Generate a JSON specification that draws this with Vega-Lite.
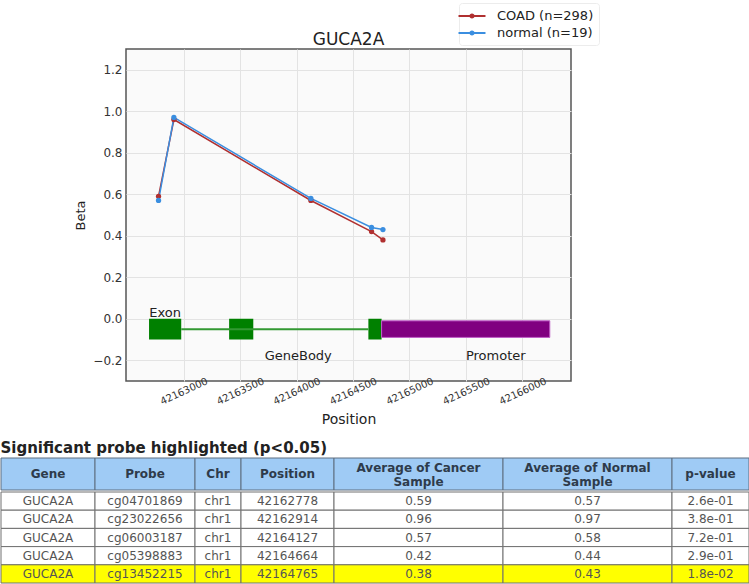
{
  "$schema": "https://vega.github.io/schema/vega-lite/v6.json",
  "padding": {"left": 0, "top": 2, "right": 0, "bottom": 0},
  "background": "#ffffff",
  "config": {
    "view": {"stroke": null},
    "font": "DejaVu Sans"
  },
  "datasets": {
    "probes": [
      {"pos": 42162778, "beta": 0.59, "group": "COAD (n=298)"},
      {"pos": 42162914, "beta": 0.96, "group": "COAD (n=298)"},
      {"pos": 42164127, "beta": 0.57, "group": "COAD (n=298)"},
      {"pos": 42164664, "beta": 0.42, "group": "COAD (n=298)"},
      {"pos": 42164765, "beta": 0.38, "group": "COAD (n=298)"},
      {"pos": 42162778, "beta": 0.57, "group": "normal (n=19)"},
      {"pos": 42162914, "beta": 0.97, "group": "normal (n=19)"},
      {"pos": 42164127, "beta": 0.58, "group": "normal (n=19)"},
      {"pos": 42164664, "beta": 0.44, "group": "normal (n=19)"},
      {"pos": 42164765, "beta": 0.43, "group": "normal (n=19)"}
    ],
    "genes": [
      {"start": 42162694, "end": 42162979, "top": 0, "bottom": -0.1, "part": "Exon"},
      {"start": 42163403, "end": 42163617, "top": 0, "bottom": -0.1, "part": "Exon"},
      {"start": 42164636, "end": 42164753, "top": 0, "bottom": -0.1, "part": "Exon"},
      {"start": 42164753, "end": 42166242, "top": -0.01, "bottom": -0.09, "part": "Promoter"}
    ],
    "intron": [
      {"start": 42162979, "end": 42164636, "y": -0.05}
    ],
    "labels": [
      {"label": "Exon", "x": 42162836, "y": 0.03},
      {"label": "GeneBody", "x": 42164015, "y": -0.18},
      {"label": "Promoter", "x": 42165764, "y": -0.18}
    ],
    "header": [
      {"col": "Gene", "label": "Gene"},
      {"col": "Probe", "label": "Probe"},
      {"col": "Chr", "label": "Chr"},
      {"col": "Position", "label": "Position"},
      {"col": "Cancer", "label": "Average of Cancer\nSample"},
      {"col": "Normal", "label": "Average of Normal\nSample"},
      {"col": "p", "label": "p-value"}
    ],
    "rows": [
      {"row": 1, "Gene": "GUCA2A", "Probe": "cg04701869", "Chr": "chr1", "Position": "42162778", "Cancer": "0.59", "Normal": "0.57", "p": "2.6e-01", "sig": "no"},
      {"row": 2, "Gene": "GUCA2A", "Probe": "cg23022656", "Chr": "chr1", "Position": "42162914", "Cancer": "0.96", "Normal": "0.97", "p": "3.8e-01", "sig": "no"},
      {"row": 3, "Gene": "GUCA2A", "Probe": "cg06003187", "Chr": "chr1", "Position": "42164127", "Cancer": "0.57", "Normal": "0.58", "p": "7.2e-01", "sig": "no"},
      {"row": 4, "Gene": "GUCA2A", "Probe": "cg05398883", "Chr": "chr1", "Position": "42164664", "Cancer": "0.42", "Normal": "0.44", "p": "2.9e-01", "sig": "no"},
      {"row": 5, "Gene": "GUCA2A", "Probe": "cg13452215", "Chr": "chr1", "Position": "42164765", "Cancer": "0.38", "Normal": "0.43", "p": "1.8e-02", "sig": "yes"}
    ]
  },
  "vconcat": [
    {
      "spacing": 0,
      "hconcat": [
        {
          "width": 73,
          "height": 5,
          "data": {"values": []},
          "mark": {"type": "rect", "opacity": 0},
          "encoding": {}
        },
        {
          "width": 445,
          "height": 332,
          "view": {"fill": "#fafafa", "stroke": "#555555", "strokeWidth": 1.5},
          "title": {"text": "GUCA2A", "fontSize": 17, "fontWeight": "normal", "font": "DejaVu Sans", "color": "#222222", "anchor": "middle", "offset": 0},
          "layer": [
            {
              "data": {"name": "genes"},
              "transform": [{"filter": "datum.part === 'Exon'"}],
              "mark": {"type": "rect", "fill": "#008000"},
              "encoding": {
                "x": {"field": "start", "type": "quantitative", "title": "Position",
                  "scale": {"domain": [42162490, 42166430], "nice": false, "zero": false},
                  "axis": {"values": [42163000, 42163500, 42164000, 42164500, 42165000, 42165500, 42166000], "format": "d",
                    "grid": true, "gridColor": "#e3e3e3", "domain": false, "ticks": false, "tickSize": 0,
                    "labelAngle": -25, "labelAlign": "center", "labelBaseline": "middle", "labelPadding": 10,
                    "labelFontSize": 10, "labelColor": "#333333", "labelFont": "DejaVu Sans",
                    "titleFontSize": 14, "titleFontWeight": "normal", "titleColor": "#222222", "titlePadding": 6, "titleFont": "DejaVu Sans"}},
                "x2": {"field": "end"},
                "y": {"field": "top", "type": "quantitative", "title": "Beta",
                  "scale": {"domain": [-0.3, 1.3], "nice": false, "zero": false},
                  "axis": {"values": [-0.2, 0, 0.2, 0.4, 0.6, 0.8, 1.0, 1.2], "format": ".1f",
                    "grid": true, "gridColor": "#e3e3e3", "domain": false, "ticks": false, "tickSize": 0,
                    "labelPadding": 4, "labelFontSize": 12, "labelColor": "#333333", "labelFont": "DejaVu Sans",
                    "titleFontSize": 13, "titleFontWeight": "normal", "titleColor": "#222222", "titlePadding": 5, "titleFont": "DejaVu Sans"}},
                "y2": {"field": "bottom"}
              }
            },
            {
              "data": {"name": "genes"},
              "transform": [{"filter": "datum.part === 'Promoter'"}],
              "mark": {"type": "rect", "fill": "#800080", "stroke": "#c060c8", "strokeWidth": 1},
              "encoding": {
                "x": {"field": "start", "type": "quantitative", "title": "Position"},
                "x2": {"field": "end"},
                "y": {"field": "top", "type": "quantitative", "title": "Beta"},
                "y2": {"field": "bottom"}
              }
            },
            {
              "data": {"name": "intron"},
              "mark": {"type": "rule", "stroke": "#339933", "strokeWidth": 2},
              "encoding": {
                "x": {"field": "start", "type": "quantitative", "title": "Position"},
                "x2": {"field": "end"},
                "y": {"field": "y", "type": "quantitative", "title": "Beta"}
              }
            },
            {
              "data": {"name": "labels"},
              "mark": {"type": "text", "fontSize": 13, "font": "DejaVu Sans", "color": "#222222", "baseline": "middle", "align": "center"},
              "encoding": {
                "x": {"field": "x", "type": "quantitative", "title": "Position"},
                "y": {"field": "y", "type": "quantitative", "title": "Beta"},
                "text": {"field": "label"}
              }
            },
            {
              "data": {"name": "probes"},
              "mark": {"type": "line", "strokeWidth": 1.5},
              "encoding": {
                "x": {"field": "pos", "type": "quantitative", "title": "Position"},
                "y": {"field": "beta", "type": "quantitative", "title": "Beta"},
                "color": {"field": "group", "type": "nominal",
                  "scale": {"domain": ["COAD (n=298)", "normal (n=19)"], "range": ["#b03030", "#3a8ee0"]},
                  "legend": {"orient": "none", "legendX": 458, "legendY": -46, "title": null,
                    "symbolType": "M-2,0L2,0M-0.24,0A0.24,0.24,0,1,1,0.24,0A0.24,0.24,0,1,1,-0.24,0Z",
                    "symbolSize": 182, "symbolStrokeWidth": 2,
                    "labelFontSize": 13, "labelFont": "DejaVu Sans", "labelColor": "#222222", "labelOffset": 17,
                    "padding": 5, "fillColor": "#ffffff", "strokeColor": "#ececec", "cornerRadius": 3, "rowPadding": 2}}
              }
            },
            {
              "data": {"name": "probes"},
              "mark": {"type": "circle", "size": 28, "opacity": 1},
              "encoding": {
                "x": {"field": "pos", "type": "quantitative", "title": "Position"},
                "y": {"field": "beta", "type": "quantitative", "title": "Beta"},
                "color": {"field": "group", "type": "nominal"}
              }
            }
          ]
        }
      ]
    },
    {
      "spacing": 0,
      "title": {"text": "Significant probe highlighted (p<0.05)", "anchor": "start", "fontSize": 15, "fontWeight": "bold", "font": "DejaVu Sans", "color": "#222222", "offset": 2},
      "vconcat": [
        {
          "spacing": 0,
          "bounds": "flush",
          "hconcat": [
            {"width": 94, "height": 32, "data": {"name": "header"}, "transform": [{"filter": "datum.col === 'Gene'"}],
             "layer": [
               {"mark": {"type": "rect", "fill": "#9fcbf5", "stroke": "#5f6f80", "strokeWidth": 1}, "encoding": {}},
               {"mark": {"type": "text", "font": "DejaVu Sans", "fontWeight": "bold", "fontSize": 12, "color": "#2e3b4b", "lineBreak": "\n", "lineHeight": 14}, "encoding": {"text": {"field": "label"}}}
             ]},
            {"width": 100, "height": 32, "data": {"name": "header"}, "transform": [{"filter": "datum.col === 'Probe'"}],
             "layer": [
               {"mark": {"type": "rect", "fill": "#9fcbf5", "stroke": "#5f6f80", "strokeWidth": 1}, "encoding": {}},
               {"mark": {"type": "text", "font": "DejaVu Sans", "fontWeight": "bold", "fontSize": 12, "color": "#2e3b4b", "lineBreak": "\n", "lineHeight": 14}, "encoding": {"text": {"field": "label"}}}
             ]},
            {"width": 46, "height": 32, "data": {"name": "header"}, "transform": [{"filter": "datum.col === 'Chr'"}],
             "layer": [
               {"mark": {"type": "rect", "fill": "#9fcbf5", "stroke": "#5f6f80", "strokeWidth": 1}, "encoding": {}},
               {"mark": {"type": "text", "font": "DejaVu Sans", "fontWeight": "bold", "fontSize": 12, "color": "#2e3b4b", "lineBreak": "\n", "lineHeight": 14}, "encoding": {"text": {"field": "label"}}}
             ]},
            {"width": 93, "height": 32, "data": {"name": "header"}, "transform": [{"filter": "datum.col === 'Position'"}],
             "layer": [
               {"mark": {"type": "rect", "fill": "#9fcbf5", "stroke": "#5f6f80", "strokeWidth": 1}, "encoding": {}},
               {"mark": {"type": "text", "font": "DejaVu Sans", "fontWeight": "bold", "fontSize": 12, "color": "#2e3b4b", "lineBreak": "\n", "lineHeight": 14}, "encoding": {"text": {"field": "label"}}}
             ]},
            {"width": 169, "height": 32, "data": {"name": "header"}, "transform": [{"filter": "datum.col === 'Cancer'"}],
             "layer": [
               {"mark": {"type": "rect", "fill": "#9fcbf5", "stroke": "#5f6f80", "strokeWidth": 1}, "encoding": {}},
               {"mark": {"type": "text", "font": "DejaVu Sans", "fontWeight": "bold", "fontSize": 12, "color": "#2e3b4b", "lineBreak": "\n", "lineHeight": 14, "dy": -6}, "encoding": {"text": {"field": "label"}}}
             ]},
            {"width": 169, "height": 32, "data": {"name": "header"}, "transform": [{"filter": "datum.col === 'Normal'"}],
             "layer": [
               {"mark": {"type": "rect", "fill": "#9fcbf5", "stroke": "#5f6f80", "strokeWidth": 1}, "encoding": {}},
               {"mark": {"type": "text", "font": "DejaVu Sans", "fontWeight": "bold", "fontSize": 12, "color": "#2e3b4b", "lineBreak": "\n", "lineHeight": 14, "dy": -6}, "encoding": {"text": {"field": "label"}}}
             ]},
            {"width": 77, "height": 32, "data": {"name": "header"}, "transform": [{"filter": "datum.col === 'p'"}],
             "layer": [
               {"mark": {"type": "rect", "fill": "#9fcbf5", "stroke": "#5f6f80", "strokeWidth": 1}, "encoding": {}},
               {"mark": {"type": "text", "font": "DejaVu Sans", "fontWeight": "bold", "fontSize": 12, "color": "#2e3b4b", "lineBreak": "\n", "lineHeight": 14}, "encoding": {"text": {"field": "label"}}}
             ]}
          ]
        },
        {
          "spacing": 0,
          "bounds": "flush",
          "hconcat": [
            {"width": 94, "height": 91, "data": {"name": "rows"},
             "encoding": {"y": {"field": "row", "type": "ordinal", "axis": null, "scale": {"paddingInner": 0, "paddingOuter": 0}}},
             "layer": [
               {"mark": {"type": "rect", "stroke": "#707070", "strokeWidth": 1}, "encoding": {"fill": {"field": "sig", "type": "nominal", "scale": {"domain": ["no", "yes"], "range": ["#ffffff", "#ffff00"]}, "legend": null}}},
               {"mark": {"type": "text", "font": "DejaVu Sans", "fontSize": 12, "color": "#555555"}, "encoding": {"text": {"field": "Gene"}}}
             ]},
            {"width": 100, "height": 91, "data": {"name": "rows"},
             "encoding": {"y": {"field": "row", "type": "ordinal", "axis": null, "scale": {"paddingInner": 0, "paddingOuter": 0}}},
             "layer": [
               {"mark": {"type": "rect", "stroke": "#707070", "strokeWidth": 1}, "encoding": {"fill": {"field": "sig", "type": "nominal", "scale": {"domain": ["no", "yes"], "range": ["#ffffff", "#ffff00"]}, "legend": null}}},
               {"mark": {"type": "text", "font": "DejaVu Sans", "fontSize": 12, "color": "#555555"}, "encoding": {"text": {"field": "Probe"}}}
             ]},
            {"width": 46, "height": 91, "data": {"name": "rows"},
             "encoding": {"y": {"field": "row", "type": "ordinal", "axis": null, "scale": {"paddingInner": 0, "paddingOuter": 0}}},
             "layer": [
               {"mark": {"type": "rect", "stroke": "#707070", "strokeWidth": 1}, "encoding": {"fill": {"field": "sig", "type": "nominal", "scale": {"domain": ["no", "yes"], "range": ["#ffffff", "#ffff00"]}, "legend": null}}},
               {"mark": {"type": "text", "font": "DejaVu Sans", "fontSize": 12, "color": "#555555"}, "encoding": {"text": {"field": "Chr"}}}
             ]},
            {"width": 93, "height": 91, "data": {"name": "rows"},
             "encoding": {"y": {"field": "row", "type": "ordinal", "axis": null, "scale": {"paddingInner": 0, "paddingOuter": 0}}},
             "layer": [
               {"mark": {"type": "rect", "stroke": "#707070", "strokeWidth": 1}, "encoding": {"fill": {"field": "sig", "type": "nominal", "scale": {"domain": ["no", "yes"], "range": ["#ffffff", "#ffff00"]}, "legend": null}}},
               {"mark": {"type": "text", "font": "DejaVu Sans", "fontSize": 12, "color": "#555555"}, "encoding": {"text": {"field": "Position"}}}
             ]},
            {"width": 169, "height": 91, "data": {"name": "rows"},
             "encoding": {"y": {"field": "row", "type": "ordinal", "axis": null, "scale": {"paddingInner": 0, "paddingOuter": 0}}},
             "layer": [
               {"mark": {"type": "rect", "stroke": "#707070", "strokeWidth": 1}, "encoding": {"fill": {"field": "sig", "type": "nominal", "scale": {"domain": ["no", "yes"], "range": ["#ffffff", "#ffff00"]}, "legend": null}}},
               {"mark": {"type": "text", "font": "DejaVu Sans", "fontSize": 12, "color": "#555555"}, "encoding": {"text": {"field": "Cancer"}}}
             ]},
            {"width": 169, "height": 91, "data": {"name": "rows"},
             "encoding": {"y": {"field": "row", "type": "ordinal", "axis": null, "scale": {"paddingInner": 0, "paddingOuter": 0}}},
             "layer": [
               {"mark": {"type": "rect", "stroke": "#707070", "strokeWidth": 1}, "encoding": {"fill": {"field": "sig", "type": "nominal", "scale": {"domain": ["no", "yes"], "range": ["#ffffff", "#ffff00"]}, "legend": null}}},
               {"mark": {"type": "text", "font": "DejaVu Sans", "fontSize": 12, "color": "#555555"}, "encoding": {"text": {"field": "Normal"}}}
             ]},
            {"width": 77, "height": 91, "data": {"name": "rows"},
             "encoding": {"y": {"field": "row", "type": "ordinal", "axis": null, "scale": {"paddingInner": 0, "paddingOuter": 0}}},
             "layer": [
               {"mark": {"type": "rect", "stroke": "#707070", "strokeWidth": 1}, "encoding": {"fill": {"field": "sig", "type": "nominal", "scale": {"domain": ["no", "yes"], "range": ["#ffffff", "#ffff00"]}, "legend": null}}},
               {"mark": {"type": "text", "font": "DejaVu Sans", "fontSize": 12, "color": "#555555"}, "encoding": {"text": {"field": "p"}}}
             ]}
          ]
        }
      ]
    }
  ],
  "spacing": 12
}
